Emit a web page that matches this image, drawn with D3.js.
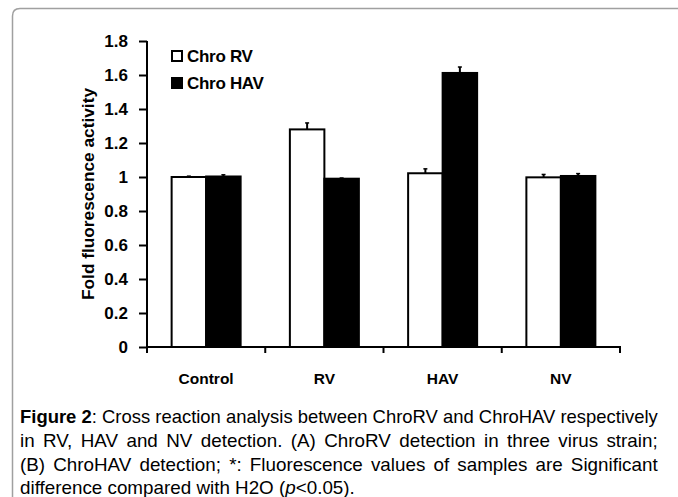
<!DOCTYPE html>
<html><head><meta charset="utf-8">
<script src="https://cdn.jsdelivr.net/npm/d3@7/dist/d3.min.js"></script>
<style>html,body{margin:0;padding:0;background:#fff;}svg{display:block;}</style>
</head><body>
<svg id="c" width="678" height="497"></svg>
<script>
const categories = ["Control", "RV", "HAV", "NV"];
const seriesNames = ["Chro RV", "Chro HAV"];
const chroRV = [1.0, 1.28, 1.022, 0.998];
const chroRVErr = [0.005, 0.038, 0.026, 0.017];
const chroHAV = [1.003, 0.99, 1.612, 1.006];
const chroHAVErr = [0.01, 0.004, 0.035, 0.014];
const yTicks = [0, 0.2, 0.4, 0.6, 0.8, 1, 1.2, 1.4, 1.6, 1.8];
const yLabel = "Fold fluorescence activity";
const captionLines = [
  "Cross reaction analysis between ChroRV and ChroHAV respectively",
  "in RV, HAV and NV detection. (A) ChroRV detection in three virus strain;",
  "(B) ChroHAV detection; *: Fluorescence values of samples are Significant",
  "difference compared with H2O ("
];

const svg = d3.select("#c");
const font = "Liberation Sans, Arial, sans-serif";

// frame
svg.append("path")
  .attr("d", "M12.5,497 L12.5,16 Q12.5,8.5 20,8.5 L678,8.5")
  .attr("fill", "none").attr("stroke", "#a0a0a0").attr("stroke-width", 1.5);

const x0 = d3.scaleBand().domain(categories).range([147, 620]).paddingInner(0).paddingOuter(0);
const x1 = d3.scaleBand().domain(seriesNames).range([0, 69]);
const y = d3.scaleLinear().domain([0, 1.8]).range([347, 41]);

const g = svg.append("g");
const series = [
  {name: seriesNames[0], vals: chroRV, errs: chroRVErr, fill: "#fff"},
  {name: seriesNames[1], vals: chroHAV, errs: chroHAVErr, fill: "#000"}
];

series.forEach(s => {
  categories.forEach((c, i) => {
    const bx = x0(c) + (x0.bandwidth() - 69) / 2 + x1(s.name);
    const cx = bx + x1.bandwidth() / 2;
    g.append("line").attr("x1", cx).attr("x2", cx)
      .attr("y1", y(s.vals[i])).attr("y2", y(s.vals[i] + s.errs[i]))
      .attr("stroke", "#000").attr("stroke-width", 2);
    g.append("line").attr("x1", cx - 2).attr("x2", cx + 2)
      .attr("y1", y(s.vals[i] + s.errs[i])).attr("y2", y(s.vals[i] + s.errs[i]))
      .attr("stroke", "#000").attr("stroke-width", 1.5);
    g.append("rect").attr("x", bx).attr("y", y(s.vals[i]))
      .attr("width", x1.bandwidth()).attr("height", y(0) - y(s.vals[i]))
      .attr("fill", s.fill).attr("stroke", "#000").attr("stroke-width", 2);
  });
});

// y axis
const yAxis = svg.append("g").attr("transform", "translate(147,0)")
  .call(d3.axisLeft(y).tickValues(yTicks).tickSize(8).tickPadding(11)
    .tickFormat(d => d3.format("")(+d.toFixed(1))));
yAxis.select(".domain").attr("stroke", "#000").attr("stroke-width", 2).attr("d", "M0,41V347");
yAxis.selectAll(".tick line").attr("stroke", "#000").attr("stroke-width", 2);
yAxis.selectAll(".tick text").attr("font-family", font).attr("font-size", 17).attr("font-weight", "bold").attr("fill", "#000");

// x axis
const xAxis = svg.append("g").attr("transform", "translate(0,347)");
xAxis.append("line").attr("x1", 146).attr("x2", 621).attr("y1", 0).attr("y2", 0)
  .attr("stroke", "#000").attr("stroke-width", 2);
const bounds = categories.map(c => x0(c)).concat([x0.range()[1]]);
xAxis.selectAll("line.tk").data(bounds).enter().append("line").attr("class", "tk")
  .attr("x1", d => d).attr("x2", d => d).attr("y1", 0).attr("y2", 6)
  .attr("stroke", "#000").attr("stroke-width", 2);
xAxis.selectAll("text.cat").data(categories).enter().append("text").attr("class", "cat")
  .attr("x", d => x0(d) + x0.bandwidth() / 2).attr("y", 37)
  .attr("text-anchor", "middle").attr("font-family", font).attr("font-size", 15.5)
  .attr("font-weight", "bold").text(d => d);

// y label
svg.append("text").attr("transform", "translate(94,194) rotate(-90)")
  .attr("text-anchor", "middle").attr("font-family", font).attr("font-size", 16.5)
  .attr("font-weight", "bold").attr("textLength", 212).attr("lengthAdjust", "spacingAndGlyphs")
  .text(yLabel);

// legend
const leg = svg.append("g");
series.forEach((s, i) => {
  leg.append("rect").attr("x", 172).attr("y", 51 + i * 27).attr("width", 10).attr("height", 10)
    .attr("fill", s.fill).attr("stroke", "#000").attr("stroke-width", 2);
  leg.append("text").attr("x", 187).attr("y", 62 + i * 27)
    .attr("font-family", font).attr("font-size", 17).attr("font-weight", "bold")
    .attr("letter-spacing", -0.3).text(s.name);
});

// caption: lines 1-3 justified with word spacing
const lineY = [423, 447, 471, 494];
const cap = svg.append("g").attr("font-family", font).attr("font-size", 18).attr("fill", "#000");
const rows = [];
for (let i = 0; i < 4; i++) {
  rows.push(cap.append("g").append("text").attr("x", 0).attr("y", 0));
}
rows[0].append("tspan").attr("font-weight", "bold").text("Figure 2");
rows[0].append("tspan").text(": " + captionLines[0]);
rows[1].text(captionLines[1]);
rows[2].text(captionLines[2]);
rows[3].append("tspan").text(captionLines[3]);
rows[3].append("tspan").attr("font-style", "italic").text("p");
rows[3].append("tspan").text("<0.05).");

const w4 = rows[3].node().getComputedTextLength();
const sx = 335 / w4;
const fullTexts = ["Figure 2: " + captionLines[0], captionLines[1], captionLines[2]];
rows.forEach((r, i) => {
  let rs = sx;
  if (i < 3) {
    const w = r.node().getComputedTextLength();
    const nSp = (fullTexts[i].match(/ /g) || []).length;
    let ws = (638 / sx - w) / nSp;
    if (ws < 0) { ws = 0; rs = 638 / w; }
    r.attr("word-spacing", ws);
  }
  d3.select(r.node().parentNode).attr("transform", `translate(20,${lineY[i]}) scale(${rs},1)`);
});
</script>
</body></html>
